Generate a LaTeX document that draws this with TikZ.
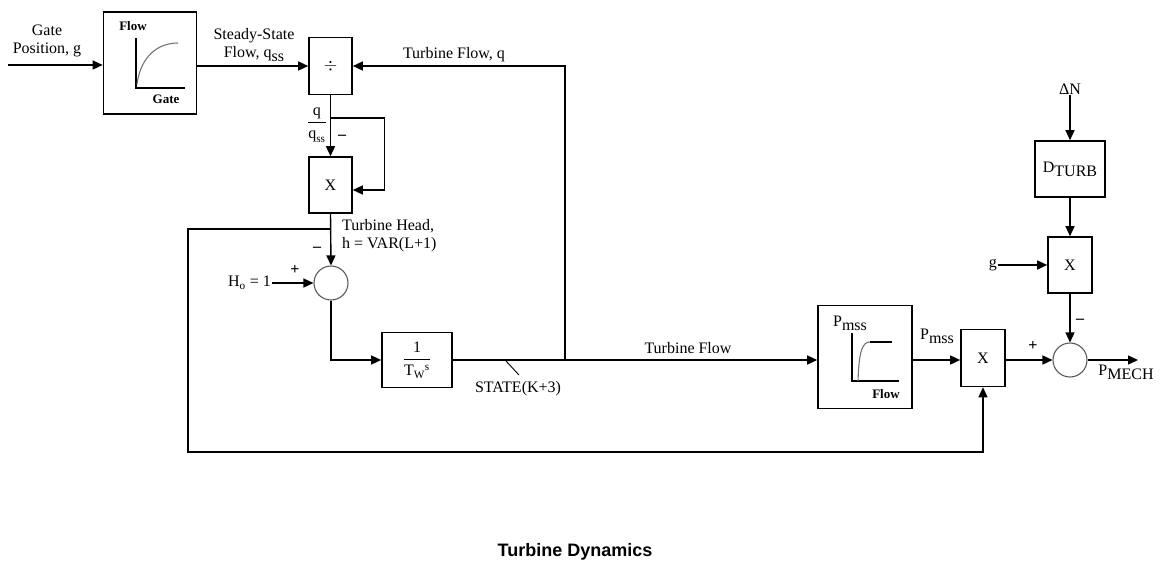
\documentclass[tikz,border=0pt]{standalone}
\usepackage{amsmath}
\usepackage{fontspec}
\setmainfont{Liberation Serif}
\newfontfamily\titlefont{Liberation Sans}
\usetikzlibrary{arrows.meta,positioning,calc}

\newcommand{\lowsub}[2]{#1\raisebox{-4pt}{#2}}

\begin{document}
\begin{tikzpicture}[x=1pt, y=-1pt,
  font=\fontsize{16}{18}\selectfont,
  >={Triangle[length=10pt,width=9pt]},
  block/.style={draw, line width=1.6pt, inner sep=0pt,
                minimum width=43pt, minimum height=57pt},
  wide/.style={block, minimum width=70pt, minimum height=56pt},
  curvebox/.style={block, minimum width=93pt, minimum height=102pt},
  junction/.style={circle, draw=black!65, line width=1.1pt,
                   minimum size=34pt, inner sep=0pt},
  lbl/.style={inner sep=1pt, align=center},
  sign/.style={inner sep=0pt, font=\fontsize{16}{16}\selectfont\bfseries},
  axlbl/.style={inner sep=0pt, font=\fontsize{13}{13}\selectfont\bfseries},
  flow/.style={->, line width=1.4pt},
  wire/.style={line width=1.4pt},
  graph/.style={line width=1.1pt, draw=black!55},
]
\useasboundingbox (0,0) rectangle (1162,563);

% ---- gate curve and divider ---------------------------------------------
\coordinate (gin) at (8,65);
\node[curvebox] (gatecurve) at (150,63) {};
\node[block] (div) at (330.5,66) {$\div$};
\node[lbl] (gatelbl) at (47,41) {Gate\\Position, g};
\node[lbl] (sslbl) at (254,45) {Steady-State\\Flow, \lowsub{q}{ss}};

% flow vs gate characteristic
\draw[wire, line width=1.3pt] (136,38) -- (136,88) -- (185,88);
\draw[graph] (137,84) .. controls (141,56) and (158,43) .. (178,43);
\node[axlbl] (flowax) at (133,26) {Flow};
\node[axlbl] (gateax) at (166,99) {Gate};

% ---- head computation ---------------------------------------------------
\node[block, minimum height=56pt] (mulA) at (330.5,185) {X};
\node[junction] (sumA) at (331,283) {};
\coordinate (brA) at (330.5,118);
\coordinate (fbA) at (330.5,229);
\coordinate (fbcorner) at (188,452);
\node[lbl, anchor=east] (qratio) at (328,125)
  {$\dfrac{\text{q}}{\text{q}_{\text{ss}}}$};
\node[sign] (minA) at (342,137) {–};
\node[lbl, anchor=west, align=left] (headlbl) at (341,236)
  {Turbine Head,\\h = VAR(L+1)};
\node[sign] (minB) at (317,249) {–};
\node[lbl, anchor=east] (ho) at (272,283) {H$_\text{o}$ = 1};
\node[sign] (plusA) at (295,270) {+};

% ---- water column integrator -------------------------------------------
\node[wide, minimum height=55pt] (integ) at (417,360)
  {$\dfrac{\text{1}}{\text{T}_{\text{W}}{}^{\text{s}}}$};
\coordinate (tap) at (565,360);
\coordinate (stmark) at (506,361);
\node[lbl] (turblbl) at (454,55) {Turbine Flow, q};
\node[lbl] (tflbl) at (688,348) {Turbine Flow};
\node[lbl] (statelbl) at (518,389) {STATE(K+3)};

% ---- mechanical power ---------------------------------------------------
\node[curvebox, minimum width=94pt, minimum height=103pt] (pcurve) at (865,357) {};
\draw[wire, line width=1.3pt] (852,333) -- (852,381) -- (899,381);
\draw[graph] (858,381) .. controls (859,352) and (862,342) .. (870,342);
\draw[wire, line width=1.3pt] (870,342) -- (892,342);
\node[lbl] (pmssax) at (850,323) {\lowsub{P}{mss}};
\node[axlbl] (flowax2) at (886,394) {Flow};

\node[block, minimum width=44pt] (mulB) at (983,358) {X};
\node[junction] (sumB) at (1070,360) {};
\node[lbl] (pmsslbl) at (937,336) {\lowsub{P}{mss}};
\node[sign] (plusB) at (1033,346) {+};
\coordinate (pout) at (1138,360);
\node[lbl] (pmech) at (1126,372) {\lowsub{P}{MECH}};

% ---- damping branch -----------------------------------------------------
\node[lbl] (dn) at (1070,89) {ΔN};
\node[wide] (dturb) at (1070,169) {\lowsub{D}{TURB}};
\node[block, minimum width=44pt, minimum height=56pt] (mulC) at (1070,265) {X};
\node[lbl, anchor=east] (gsig) at (998,265) {g};
\node[sign] (minC) at (1080,321) {–};

% ---- connectors ---------------------------------------------------------
\draw[flow] (gin) -- (gatecurve.west |- gin);
\draw[flow] (gatecurve.east |- div) -- (div.west);
\draw[flow] (tap) |- (div.east);
\draw[flow] (div.south) -- (mulA.north);
\draw[flow] (brA) -- ++(54,0) |- ($(mulA.east)+(0,5)$);
\draw[flow] (mulA.south) -- (sumA.north);
\draw[flow] (fbA) -| (fbcorner) -| (mulB.south);
\draw[flow] (ho.east) -- (sumA.west);
\draw[flow] (sumA.south) |- (integ.west);
\draw[flow] (integ.east) -- (integ.east -| pcurve.west);
\draw[line width=0.9pt] (stmark) -- ++(13,14);
\draw[flow] (pcurve.east |- sumB) -- (mulB.west |- sumB);
\draw[flow] (mulB.east |- sumB) -- (sumB.west);
\draw[flow] (sumB.east) -- (pout);
\draw[flow] (dn.south) -- (dturb.north);
\draw[flow] (dturb.south) -- (mulC.north);
\draw[flow] (gsig.east) -- (mulC.west);
\draw[flow] (mulC.south) -- (sumB.north);

% ---- caption ------------------------------------------------------------
\node[inner sep=0pt] (title) at (575,552)
  {\titlefont\bfseries\fontsize{18}{18}\selectfont Turbine Dynamics};

\end{tikzpicture}
\end{document}
